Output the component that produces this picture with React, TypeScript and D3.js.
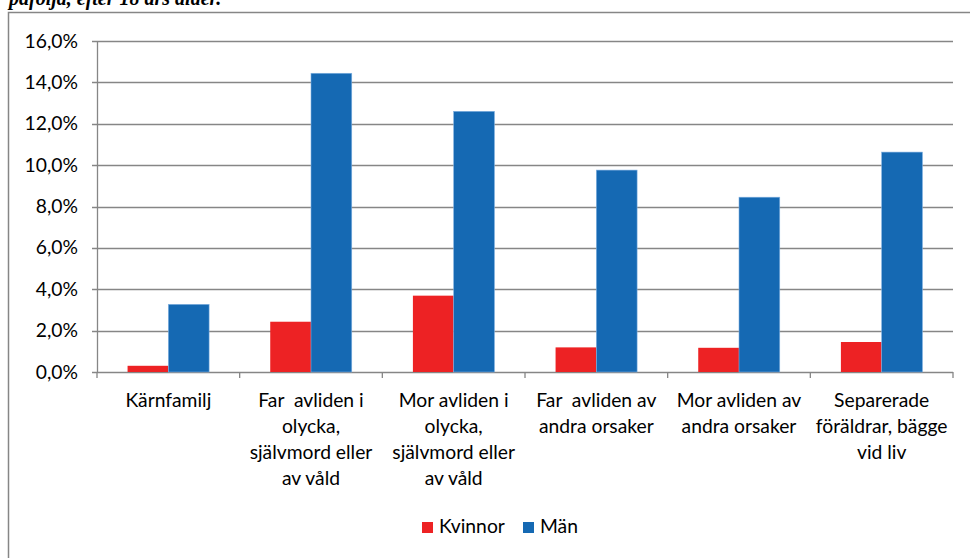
import React from "react";
import * as d3 from "d3";

const categories: string[][] = [
  ["Kärnfamilj"],
  ["Far  avliden i", "olycka,", "självmord eller", "av våld"],
  ["Mor avliden i", "olycka,", "självmord eller", "av våld"],
  ["Far  avliden av", "andra orsaker"],
  ["Mor avliden av", "andra orsaker"],
  ["Separerade", "föräldrar, bägge", "vid liv"],
];
const kvinnor = [0.3, 2.43, 3.69, 1.19, 1.17, 1.45];
const man = [3.27, 14.44, 12.6, 9.76, 8.45, 10.63];
const seriesNames = ["Kvinnor", "Män"];
const seriesColors = ["#ED2224", "#1569B3"];
const yTicks = [0, 2, 4, 6, 8, 10, 12, 14, 16];
const caption = "påföljd, efter 18 års ålder.";

const W = 970;
const H = 558;
const left = 97;
const right = 953;
const top = 41;
const bottom = 372;
const font = "Lato, 'Open Sans', sans-serif";
const fs = 19.3;

export default function App() {
  const y = d3.scaleLinear().domain([0, 16]).range([bottom, top]);
  const x = d3
    .scaleBand<number>()
    .domain(d3.range(categories.length))
    .range([left, right]);
  const bw = x.bandwidth() / 3.5;
  const series = [kvinnor, man];
  return (
    <svg
      width={W}
      height={H}
      style={{ position: "absolute", left: 0, top: 0, background: "#fff" }}
    >
      <text
        x={9}
        y={5}
        fontFamily="'Liberation Serif', serif"
        fontStyle="italic"
        fontWeight="bold"
        fontSize={20}
        fill="#000"
      >
        {caption}
      </text>
      <rect x={8.5} y={12.5} width={980} height={560} fill="none" stroke="#868686" strokeWidth={1.5} />
      {yTicks.map((t) => (
        <g key={t}>
          <line x1={left - 5} x2={right} y1={Math.round(y(t)) + 0.5} y2={Math.round(y(t)) + 0.5} stroke="#868686" strokeWidth={1.3} />
          <text
            x={78}
            y={y(t) + 6.5}
            textAnchor="end"
            fontFamily={font}
            fontSize={fs}
            fill="#000"
          >
            {t.toFixed(1).replace(".", ",") + "%"}
          </text>
        </g>
      ))}
      <line x1={left + 0.5} x2={left + 0.5} y1={top} y2={bottom} stroke="#868686" strokeWidth={1.3} />
      {d3.range(categories.length + 1).map((i) => {
        const xx = left + i * x.step();
        return <line key={i} x1={xx} x2={xx} y1={bottom} y2={bottom + 6} stroke="#868686" strokeWidth={1.3} />;
      })}
      {series.map((vals, si) =>
        vals.map((v, i) => {
          const x0 = (x(i) as number) + 0.75 * bw + si * bw;
          return (
            <rect
              key={si + "-" + i}
              x={x0}
              y={y(v)}
              width={bw}
              height={bottom - y(v)}
              fill={seriesColors[si]}
              stroke={si === 1 ? "#7fb0e0" : "none"}
              strokeWidth={0.6}
            />
          );
        })
      )}
      {categories.map((lines, i) => (
        <text
          key={i}
          textAnchor="middle"
          fontFamily={font}
          fontSize={fs}
          fill="#000"
          style={{ whiteSpace: "pre" }}
        >
          {lines.map((l, j) => (
            <tspan key={j} x={(x(i) as number) + x.bandwidth() / 2} y={407 + j * 26}>
              {l}
            </tspan>
          ))}
        </text>
      ))}
      <g>
        <rect x={422} y={522} width={11} height={11} fill={seriesColors[0]} />
        <text x={439} y={533} fontFamily={font} fontSize={fs} fill="#000">
          {seriesNames[0]}
        </text>
        <rect x={523} y={522} width={11} height={11} fill={seriesColors[1]} />
        <text x={540} y={533} fontFamily={font} fontSize={fs} fill="#000">
          {seriesNames[1]}
        </text>
      </g>
    </svg>
  );
}
